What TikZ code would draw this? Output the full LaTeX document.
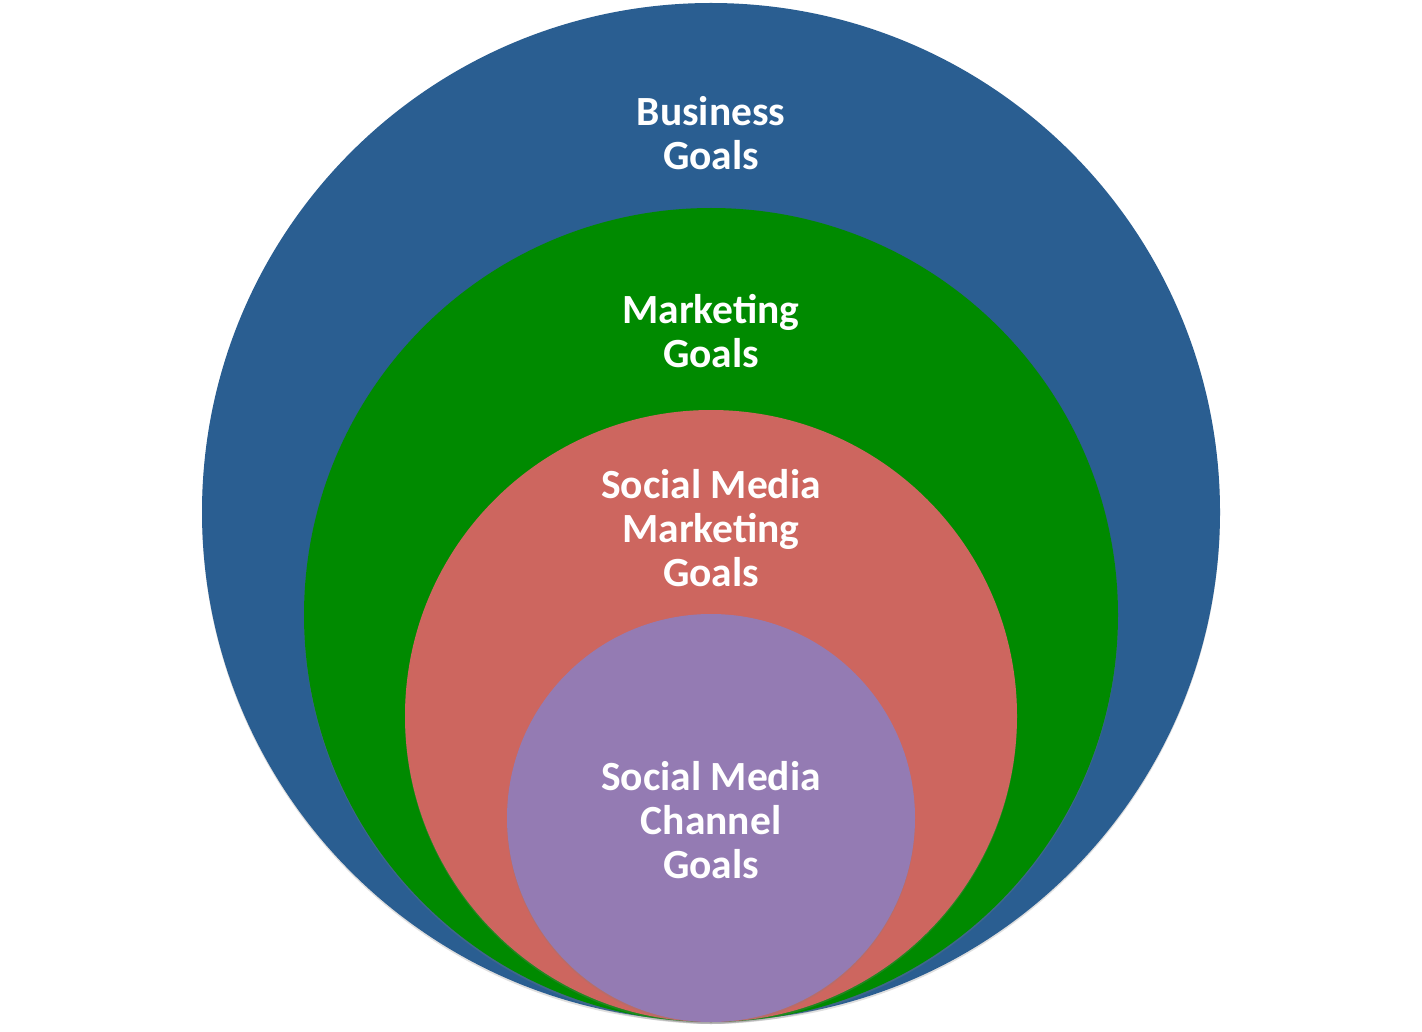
\documentclass[tikz,border=0pt]{standalone}
\usepackage{fontspec}
\setmainfont{Carlito}
\usetikzlibrary{positioning, shadows}

\definecolor{bizblue}{HTML}{2A5E91}
\definecolor{mktgreen}{HTML}{008A00}
\definecolor{smmred}{HTML}{CD665F}
\definecolor{chanpurple}{HTML}{947BB3}

\tikzset{
  goal/.style={circle, inner sep=0pt, outer sep=0pt, draw=none,
    drop shadow={opacity=0.25, shadow xshift=0pt, shadow yshift=-2pt}},
  goaltext/.style={text=white, align=center, font=\bfseries\fontsize{41.5}{44}\selectfont}
}

\begin{document}
\begin{tikzpicture}[x=1pt, y=-1pt]
   \useasboundingbox (0,0) rectangle (1422,1032);

   % Nested goal circles
   \node[goal, fill=bizblue, minimum size=1018pt] (biz) at (711,512) {};
   \node[goal, fill=mktgreen, minimum size=814pt] (mkt) at (711,615) {};
   \node[goal, fill=smmred, minimum size=612pt] (smm) at (711,716) {};
   \node[goal, fill=chanpurple, minimum size=408pt] (chan) at (711,818) {};

   % Labels
   \node[goaltext] (bizlbl) at (711,133) {Business\\Goals};
   \node[goaltext] (mktlbl) at (711,331) {Marketing\\Goals};
   \node[goaltext] (smmlbl) at (711,528) {Social Media\\Marketing\\Goals};
   \node[goaltext] (chanlbl) at (711,820) {Social Media\\Channel\\Goals};

\end{tikzpicture}
\end{document}
